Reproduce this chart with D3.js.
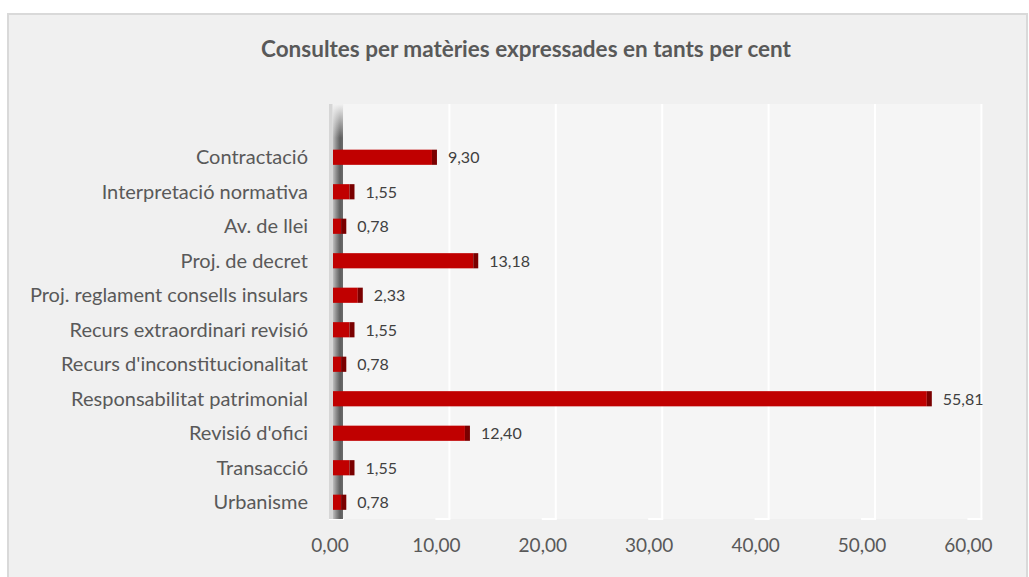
<!DOCTYPE html>
<html>
<head>
<meta charset="utf-8">
<script src="https://cdn.jsdelivr.net/npm/d3@7"></script>
<style>
  body { margin: 0; background: #fff; }
  svg text { font-family: Lato, "Open Sans", sans-serif; }
</style>
</head>
<body>
<div id="chart"></div>
<script>
var categories = ["Contractació", "Interpretació normativa", "Av. de llei", "Proj. de decret",
    "Proj. reglament consells insulars", "Recurs extraordinari revisió",
    "Recurs d'inconstitucionalitat", "Responsabilitat patrimonial", "Revisió d'ofici",
    "Transacció", "Urbanisme"];
var percentages = [9.30, 1.55, 0.78, 13.18, 2.33, 1.55, 0.78, 55.81, 12.40, 1.55, 0.78];
var xTicks = [0, 10, 20, 30, 40, 50, 60];
var title = "Consultes per matèries expressades en tants per cent";

(function() {
    var width = 1029,
        height = 577;

    var fmt = function(v) { return d3.format(".2f")(v).replace(".", ","); };

    var svg = d3.select("#chart")
        .append("svg")
        .attr("width", width)
        .attr("height", height);

    var defs = svg.append("defs");
    var wallGrad = defs.append("linearGradient").attr("id", "wallGrad")
        .attr("x1", "0%").attr("x2", "100%").attr("y1", "0%").attr("y2", "0%");
    [["0%", "#bdbdbd"], ["35%", "#8a8a8a"], ["70%", "#5e5e5e"], ["100%", "#6a6a6a"]].forEach(function(s) {
        wallGrad.append("stop").attr("offset", s[0]).attr("stop-color", s[1]);
    });
    var fadeGrad = defs.append("linearGradient").attr("id", "fadeGrad")
        .attr("x1", "0%").attr("x2", "0%").attr("y1", "0%").attr("y2", "100%");
    fadeGrad.append("stop").attr("offset", "0%").attr("stop-color", "#f2f2f2").attr("stop-opacity", 1);
    fadeGrad.append("stop").attr("offset", "100%").attr("stop-color", "#f2f2f2").attr("stop-opacity", 0);

    // chart area
    svg.append("rect")
        .attr("x", 8).attr("y", 14)
        .attr("width", 1019).attr("height", 580)
        .attr("fill", "#f0f0f0")
        .attr("stroke", "#d9d9d9")
        .attr("stroke-width", 2);

    svg.append("text")
        .attr("x", 526).attr("y", 57)
        .attr("text-anchor", "middle")
        .style("font-size", "22.5px")
        .style("font-weight", "bold")
        .style("fill", "#595959")
        .text(title);

    var depth = 10, top = 104, bottom = 519;

    // front plane scale (bars), back plane is offset by depth
    var x = d3.scaleLinear().domain([0, 60]).range([333, 971.4]);
    var y = d3.scaleBand().domain(categories).range([140, 519.5]).paddingInner(0.56).paddingOuter(0.28);

    // back wall
    svg.append("rect")
        .attr("x", x(0) + depth).attr("y", top)
        .attr("width", x(60) - x(0)).attr("height", bottom - top)
        .attr("fill", "#f5f5f5");

    // gridlines
    svg.append("g").selectAll("line")
        .data(xTicks.slice(1))
        .enter().append("line")
        .attr("x1", function(d) { return x(d) + depth; })
        .attr("x2", function(d) { return x(d) + depth; })
        .attr("y1", top).attr("y2", bottom)
        .attr("stroke", "#ffffff").attr("stroke-width", 2);

    // floor ticks
    svg.append("g").selectAll("line")
        .data(xTicks)
        .enter().append("line")
        .attr("x1", function(d) { return x(d) + depth - 14; })
        .attr("x2", function(d) { return x(d) + depth + 1; })
        .attr("y1", bottom).attr("y2", bottom)
        .attr("stroke", "#ffffff").attr("stroke-width", 2);

    // side wall at zero
    svg.append("rect")
        .attr("x", x(0) - 4).attr("y", top)
        .attr("width", 4).attr("height", bottom - top)
        .attr("fill", "#d6d6d6");
    svg.append("rect")
        .attr("x", x(0)).attr("y", top)
        .attr("width", depth).attr("height", bottom - top)
        .attr("fill", "url(#wallGrad)");
    svg.append("rect")
        .attr("x", x(0) - 0.5).attr("y", top)
        .attr("width", depth + 1).attr("height", 34)
        .attr("fill", "url(#fadeGrad)");

    // bars
    var bars = svg.append("g").selectAll(".bar")
        .data(percentages)
        .enter().append("g")
        .attr("class", "bar");

    bars.append("rect")
        .attr("x", x(0))
        .attr("y", function(d, i) { return y(categories[i]); })
        .attr("width", function(d) { return x(d) - x(0); })
        .attr("height", y.bandwidth())
        .attr("fill", "#c00000");

    bars.append("rect")
        .attr("x", function(d) { return x(d); })
        .attr("y", function(d, i) { return y(categories[i]); })
        .attr("width", 5)
        .attr("height", y.bandwidth())
        .attr("fill", "#7a0000");

    bars.append("text")
        .attr("x", function(d) { return x(d) + 16; })
        .attr("y", function(d, i) { return y(categories[i]) + y.bandwidth() / 2; })
        .attr("dy", "0.36em")
        .style("font-size", "16px")
        .style("fill", "#404040")
        .text(function(d) { return fmt(d); });

    // category labels
    svg.append("g").selectAll("text")
        .data(categories)
        .enter().append("text")
        .attr("x", 308)
        .attr("y", function(d) { return y(d) + y.bandwidth() / 2; })
        .attr("dy", "0.36em")
        .attr("text-anchor", "end")
        .style("font-size", "20px")
        .style("fill", "#595959")
        .text(function(d) { return d; });

    // x axis labels
    var xAxis = d3.axisBottom(x)
        .tickValues(xTicks)
        .tickFormat(fmt)
        .tickSize(0)
        .tickPadding(0);

    var axisG = svg.append("g")
        .attr("transform", "translate(-3.5," + 538 + ")")
        .call(xAxis);
    axisG.select(".domain").remove();
    axisG.selectAll("text")
        .style("font-size", "19px")
        .style("fill", "#595959")
        .style("font-family", "Lato, sans-serif");
})();
</script>
</body>
</html>
